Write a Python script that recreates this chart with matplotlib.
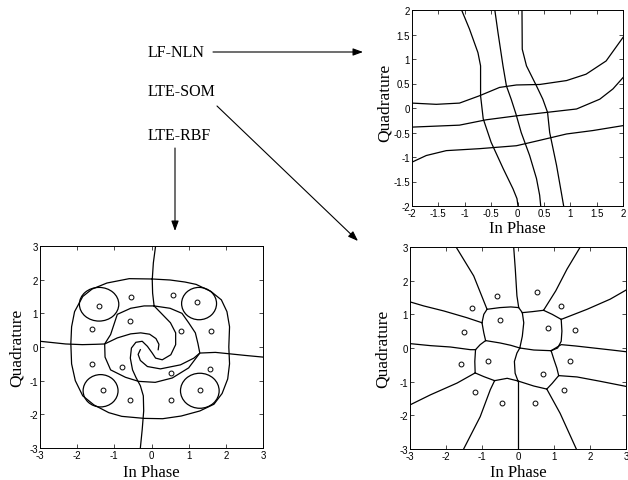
import matplotlib
matplotlib.use("Agg")
import matplotlib.pyplot as plt
from matplotlib.patches import Ellipse

plt.rcParams['axes.unicode_minus'] = False
SERIF = 'Liberation Serif'
SANS = 'Liberation Sans'

# ---- top-right panel (LF-NLN): three near-vertical and three near-horizontal boundaries
nln_v1 = [(-1.06, 2.0), (-0.91, 1.61), (-0.75, 1.13), (-0.70, 0.86), (-0.70, 0.25), (-0.65, -0.22),
          (-0.50, -0.70), (-0.27, -1.24), (-0.085, -1.65), (-0.01, -1.85), (0.01, -2.0)]
nln_v2 = [(-0.43, 2.0), (-0.37, 1.54), (-0.275, 0.86), (-0.21, 0.45), (-0.12, 0.18), (-0.03, -0.12),
          (0.07, -0.50), (0.23, -0.97), (0.36, -1.44), (0.42, -1.78), (0.44, -2.0)]
nln_v3 = [(0.085, 2.0), (0.09, 1.2), (0.17, 0.86), (0.36, 0.45), (0.48, 0.18), (0.57, -0.09),
          (0.61, -0.50), (0.74, -1.17), (0.83, -1.72), (0.875, -2.0)]
nln_h1 = [(-2.0, 0.10), (-1.54, 0.075), (-1.1, 0.10), (-0.72, 0.25), (-0.34, 0.42), (-0.02, 0.47),
          (0.42, 0.48), (0.93, 0.56), (1.3, 0.69), (1.68, 0.96), (2.0, 1.44)]
nln_h2 = [(-2.0, -0.39), (-1.1, -0.35), (-0.59, -0.24), (-0.02, -0.16), (0.55, -0.09), (1.12, -0.02),
          (1.56, 0.18), (1.81, 0.39), (2.0, 0.62)]
nln_h3 = [(-2.0, -1.105), (-1.73, -0.97), (-1.35, -0.87), (-0.72, -0.83), (-0.02, -0.77), (0.42, -0.66),
          (0.93, -0.53), (1.43, -0.46), (2.0, -0.36)]
nln_curves = [nln_v1, nln_v2, nln_v3, nln_h1, nln_h2, nln_h3]

# ---- bottom-left panel (LTE-RBF)
rbf_x = [-1.41, -0.55, 0.58, 1.22, -1.59, -0.59, 0.79, 1.59,
         -1.61, -0.79, 0.52, 1.58, -1.30, -0.59, 0.52, 1.30]
rbf_y = [1.23, 1.50, 1.55, 1.34, 0.54, 0.76, 0.49, 0.49,
         -0.50, -0.59, -0.76, -0.64, -1.28, -1.58, -1.56, -1.28]
rbf_outer = [(0.02, 2.02), (0.5, 1.99), (0.9, 1.93), (1.2, 1.86), (1.6, 1.65), (1.88, 1.4), (2.03, 1.05),
             (2.1, 0.6), (2.08, 0.0), (2.1, -0.5), (2.05, -0.95), (1.9, -1.38), (1.68, -1.7), (1.3, -1.9),
             (0.8, -2.05), (0.3, -2.13), (-0.2, -2.12), (-0.8, -2.06), (-1.15, -1.95), (-1.55, -1.72),
             (-1.85, -1.45), (-2.05, -1.0), (-2.15, -0.5), (-2.17, 0.1), (-2.15, 0.6), (-2.07, 1.05),
             (-1.85, 1.5), (-1.6, 1.72), (-1.2, 1.9), (-0.6, 2.03), (0.02, 2.02)]
rbf_ring = [(0.07, 1.22), (-0.2, 1.22), (-0.56, 1.15), (-0.92, 0.97), (-1.01, 0.67), (-1.1, 0.37),
            (-1.26, 0.09), (-1.25, -0.3), (-1.1, -0.68), (-0.7, -0.9), (-0.35, -1.02), (0.1, -1.05),
            (0.56, -0.92), (1.0, -0.62), (1.3, -0.18), (1.25, 0.1), (1.18, 0.42), (1.0, 0.72),
            (0.82, 1.0), (0.5, 1.15), (0.07, 1.22)]
rbf_s_line = [(-0.30, -3.0), (-0.25, -2.45), (-0.21, -1.9), (-0.22, -1.45), (-0.3, -1.15), (-0.42, -0.9),
              (-0.51, -0.68), (-0.57, -0.33), (-0.54, -0.03), (-0.42, 0.14), (-0.25, 0.17), (-0.11, 0.02),
              (0.02, -0.18), (0.11, -0.33), (0.29, -0.38), (0.52, -0.23), (0.65, 0.07), (0.65, 0.42),
              (0.51, 0.72), (0.29, 0.97), (0.07, 1.22), (0.03, 1.6), (0.02, 2.0), (0.05, 2.5), (0.11, 3.0)]
rbf_left_line = [(-3.0, 0.17), (-2.31, 0.09), (-1.86, 0.07), (-1.5, 0.08), (-1.26, 0.09), (-0.92, 0.27),
                 (-0.56, 0.39), (-0.29, 0.42), (-0.05, 0.38), (0.12, 0.25), (0.2, 0.08), (0.18, -0.08)]
rbf_right_line = [(3.0, -0.30), (2.52, -0.25), (2.08, -0.2), (1.72, -0.16), (1.3, -0.18), (1.14, -0.33),
                  (0.78, -0.53), (0.24, -0.65), (-0.11, -0.58), (-0.3, -0.4), (-0.36, -0.22), (-0.3, -0.08)]
rbf_curves = [rbf_outer, rbf_ring, rbf_s_line, rbf_left_line, rbf_right_line]
corner_cx = [-1.41, 1.28, -1.37, 1.30]
corner_cy = [1.27, 1.29, -1.30, -1.30]
corner_w = [1.06, 0.94, 0.94, 1.04]
corner_h = [1.0, 0.96, 0.96, 1.04]

# ---- bottom-right panel (LTE-SOM)
som_x = [0.53, -0.58, -1.27, 1.19, -0.50, 0.82, -1.51, 1.57,
         -0.84, -1.58, 1.45, 0.69, -1.19, 1.28, -0.45, 0.48]
som_y = [1.65, 1.54, 1.20, 1.24, 0.83, 0.58, 0.47, 0.54,
         -0.40, -0.47, -0.40, -0.76, -1.30, -1.25, -1.62, -1.63]
som_edges = [
    [(-0.86, 1.15), (-1.23, 2.14), (-1.72, 3.0)],
    [(-0.12, 3.0), (-0.075, 2.34), (-0.03, 1.55), (0.02, 1.2)],
    [(-0.86, 1.15), (-0.5, 1.2), (-0.2, 1.22), (0.02, 1.2), (0.12, 1.05)],
    [(0.12, 1.05), (0.4, 1.08), (0.71, 1.12)],
    [(0.12, 1.05), (0.16, 0.75), (0.12, 0.35), (0.05, 0.0)],
    [(0.71, 1.12), (1.05, 1.7), (1.36, 2.34), (1.73, 3.0)],
    [(0.71, 1.12), (0.95, 1.0), (1.2, 0.85)],
    [(1.2, 0.85), (1.92, 1.15), (2.56, 1.45), (3.0, 1.72)],
    [(1.2, 0.85), (1.22, 0.5), (1.2, 0.2), (1.1, 0.0), (0.92, -0.08)],
    [(0.05, 0.0), (0.44, -0.06), (0.92, -0.08)],
    [(0.92, -0.08), (1.2, 0.1), (1.6, 0.06), (2.1, 0.0), (2.6, -0.06), (3.0, -0.11)],
    [(0.92, -0.08), (1.0, -0.35), (1.08, -0.6), (1.13, -0.82)],
    [(1.13, -0.82), (1.64, -0.86), (2.29, -0.99), (3.0, -1.14)],
    [(1.13, -0.82), (0.95, -1.05), (0.8, -1.22)],
    [(0.8, -1.22), (1.17, -1.94), (1.62, -3.0)],
    [(0.8, -1.22), (0.44, -1.13), (0.0, -0.98)],
    [(0.0, -0.98), (0.0, -3.0)],
    [(0.0, -0.98), (-0.08, -0.75), (-0.1, -0.4), (-0.03, -0.15), (0.05, 0.0)],
    [(0.0, -0.98), (-0.3, -0.9), (-0.65, -0.97)],
    [(-0.65, -0.97), (-0.95, -0.85), (-1.19, -0.74)],
    [(-0.65, -0.97), (-0.77, -1.24), (-1.05, -2.04), (-1.51, -3.0)],
    [(-1.19, -0.74), (-1.69, -1.04), (-2.43, -1.39), (-3.0, -1.69)],
    [(-1.19, -0.74), (-1.2, -0.4), (-1.18, -0.05)],
    [(-1.18, -0.05), (-1.32, -0.05), (-1.88, 0.03), (-2.43, 0.07), (-3.0, 0.13)],
    [(-1.18, -0.05), (-1.05, 0.1), (-0.9, 0.22)],
    [(-0.9, 0.22), (-0.5, 0.15), (-0.2, 0.08), (0.05, 0.0)],
    [(-0.9, 0.22), (-0.95, 0.45), (-1.0, 0.75)],
    [(-1.0, 0.75), (-1.42, 0.9), (-2.06, 1.1), (-2.62, 1.25), (-3.0, 1.37)],
    [(-1.0, 0.75), (-0.95, 1.0), (-0.86, 1.15)],
]

top_ticks = [-2, -1.5, -1, -0.5, 0, 0.5, 1, 1.5, 2]
bottom_ticks = [-3, -2, -1, 0, 1, 2, 3]
method_labels = ['LF-NLN', 'LTE-SOM', 'LTE-RBF']

W, H = 628, 481
fig = plt.figure(figsize=(W / 100, H / 100), dpi=100)
fig.patch.set_facecolor('white')


def px_axes(left, top, right, bottom):
    return fig.add_axes([left / W, 1 - bottom / H, (right - left) / W, (bottom - top) / H])


def style(ax, ticks, xlab_y, ylab_x, ylab_y=0.5):
    lim = (ticks[0], ticks[-1])
    ax.set_xlim(lim)
    ax.set_ylim(lim)
    ax.set_xticks(ticks)
    ax.set_yticks(ticks)
    labels = [f"{t:g}" for t in ticks]
    ax.set_xticklabels(labels, fontfamily=SANS)
    ax.set_yticklabels(labels, fontfamily=SANS)
    ax.tick_params(direction='in', length=3, width=0.5, top=True, right=True,
                   labelsize=7, pad=1.5)
    for s in ax.spines.values():
        s.set_linewidth(0.7)
    ax.set_xlabel('In Phase', fontfamily=SERIF, fontsize=12, va='center')
    ax.set_ylabel('Quadrature', fontfamily=SERIF, fontsize=12.5, va='center')
    ax.xaxis.set_label_coords(0.5, xlab_y)
    ax.yaxis.set_label_coords(ylab_x, ylab_y)


def draw(ax, pts):
    ax.plot([p[0] for p in pts], [p[1] for p in pts], color='k', lw=0.9)


# top-right
ax1 = px_axes(412, 11, 623, 207)
for c in nln_curves:
    draw(ax1, c)
style(ax1, top_ticks, -0.11, -0.128, 0.53)

# bottom-left
ax2 = px_axes(40, 247, 263, 449)
for c in rbf_curves:
    draw(ax2, c)
for cx, cy, w, h in zip(corner_cx, corner_cy, corner_w, corner_h):
    ax2.add_patch(Ellipse((cx, cy), w, h, fill=False, lw=0.9, color='k'))
ax2.plot(rbf_x, rbf_y, 'o', ms=3.5, mfc='none', mec='k', mew=0.7)
style(ax2, bottom_ticks, -0.119, -0.103)

# bottom-right
ax3 = px_axes(410, 248, 626, 450)
for e in som_edges:
    draw(ax3, e)
ax3.plot(som_x, som_y, 'o', ms=3.5, mfc='none', mec='k', mew=0.7)
style(ax3, bottom_ticks, -0.114, -0.125)

# overlay with method names and arrows
ov = fig.add_axes([0, 0, 1, 1])
ov.set_xlim(0, W)
ov.set_ylim(H, 0)
ov.axis('off')
ov.patch.set_alpha(0)
for lab, y in zip(method_labels, [53, 92, 136]):
    ov.text(148, y, lab, fontfamily=SERIF, fontsize=11.5, va='center', ha='left')

arrow = dict(arrowstyle='-|>,head_length=0.6,head_width=0.22', color='k', lw=0.8,
             mutation_scale=10, shrinkA=0, shrinkB=0)
ov.annotate('', xy=(363, 53), xytext=(213, 53), arrowprops=arrow)
ov.annotate('', xy=(358, 242), xytext=(217, 107), arrowprops=arrow)
ov.annotate('', xy=(175, 232), xytext=(175, 149), arrowprops=arrow)

fig.savefig('out.png', dpi=100)
